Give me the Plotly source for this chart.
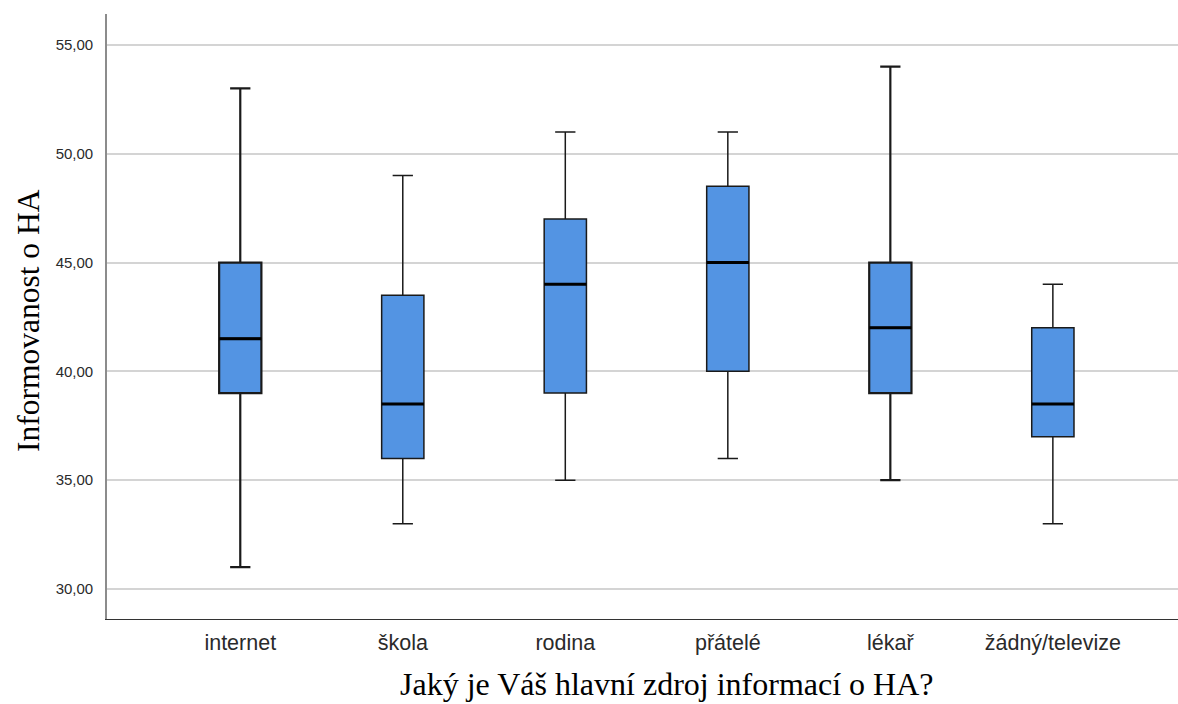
import plotly.graph_objects as go

categories = ["internet", "škola", "rodina", "přátelé", "lékař", "žádný/televize"]
lower_whisker = [31, 33, 35, 36, 35, 33]
q1 = [39, 36, 39, 40, 39, 37]
median = [41.5, 38.5, 44, 45, 42, 38.5]
q3 = [45, 43.5, 47, 48.5, 45, 42]
upper_whisker = [53, 49, 51, 51, 54, 44]
whisker_weight = [2.2, 1.5, 1.5, 1.5, 2.2, 1.5]

y_ticks = [30, 35, 40, 45, 50, 55]
y_ticktext = ["30,00", "35,00", "40,00", "45,00", "50,00", "55,00"]

BOX_W = 0.26
fig = go.Figure()
for i, cat in enumerate(categories):
    fig.add_trace(go.Box(
        x=[i], q1=[q1[i]], median=[median[i]], q3=[q3[i]],
        lowerfence=[lower_whisker[i]], upperfence=[upper_whisker[i]],
        width=BOX_W, whiskerwidth=0.48,
        fillcolor="#5394E3",
        line=dict(color="#1a1a1a", width=whisker_weight[i]),
        boxpoints=False, showlegend=False, hoverinfo="skip", name=cat,
    ))
    fig.add_trace(go.Scatter(
        x=[i - BOX_W / 2, i + BOX_W / 2], y=[median[i], median[i]],
        mode="lines", line=dict(color="black", width=3),
        showlegend=False, hoverinfo="skip",
    ))

fig.update_layout(
    width=1178, height=704,
    margin=dict(l=107, r=0, t=14, b=85),
    paper_bgcolor="white", plot_bgcolor="white",
    xaxis=dict(
        range=[-0.82, 5.77], tickmode="array", tickvals=list(range(len(categories))),
        ticktext=categories, showgrid=False, zeroline=False,
        showline=True, linecolor="#333333", linewidth=1.2,
        tickfont=dict(family="Liberation Sans, Arial", size=21.5, color="#2a2a2a"),
        ticks="", ticklabelstandoff=4,
    ),
    yaxis=dict(
        range=[28.62, 56.42], tickmode="array", tickvals=y_ticks, ticktext=y_ticktext,
        showgrid=True, gridcolor="#d4d4d4", gridwidth=1.6, zeroline=False,
        showline=True, linecolor="#8c8c8c", linewidth=1.6,
        tickfont=dict(family="Liberation Sans, Arial", size=15, color="#2a2a2a"),
        ticks="", ticklabelstandoff=9,
    ),
    annotations=[
        dict(text="Jaký je Váš hlavní zdroj informací o HA?", xref="paper", yref="paper",
             x=(666 - 107) / 1071, y=-(684 - 619) / 605, xanchor="center", yanchor="middle",
             showarrow=False, font=dict(family="Liberation Serif, Times New Roman", size=32, color="black")),
        dict(text="Informovanost o HA", xref="paper", yref="paper",
             x=-(107 - 28) / 1071, y=(619 - 321) / 605, xanchor="center", yanchor="middle",
             textangle=-90, showarrow=False,
             font=dict(family="Liberation Serif, Times New Roman", size=31.5, color="black")),
    ],
)

fig.write_html("out.html", config={"displayModeBar": False},
               post_script="document.body.style.margin='0';")
